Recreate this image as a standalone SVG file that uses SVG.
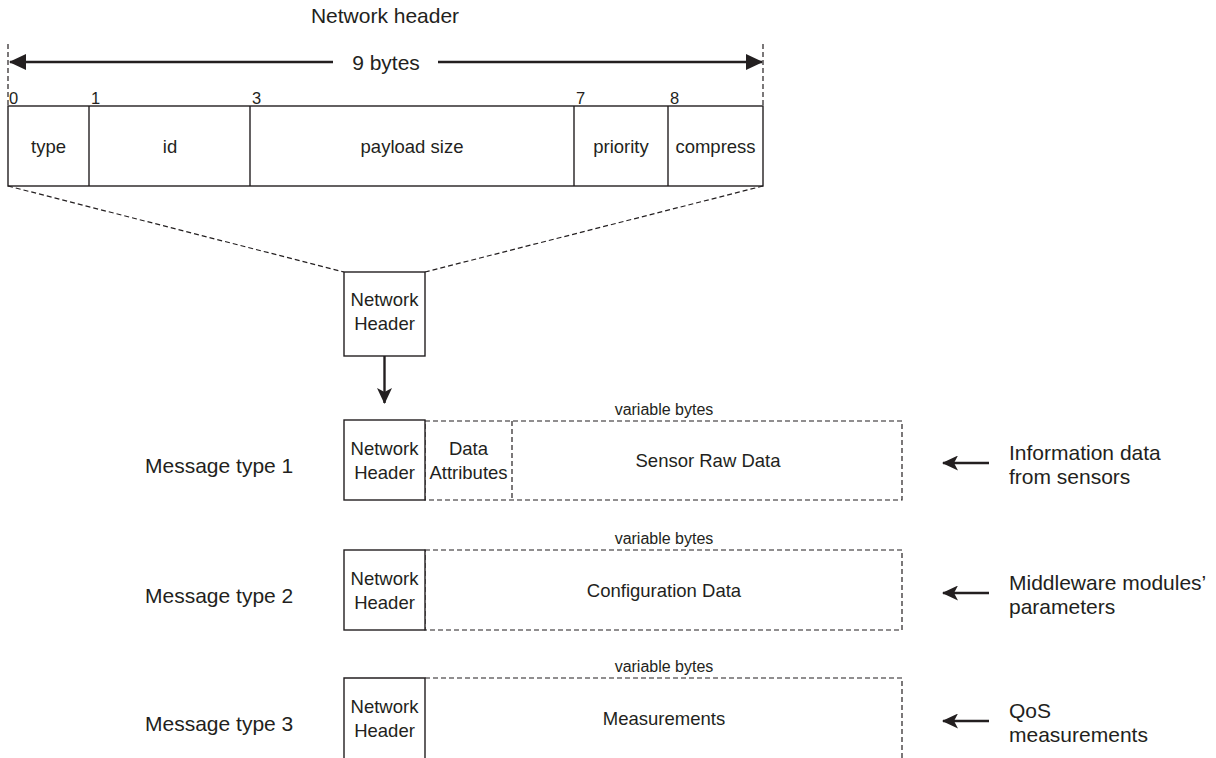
<svg xmlns="http://www.w3.org/2000/svg" width="1216" height="758" viewBox="0 0 1216 758">
  <defs>
    <style>
      text { font-family: "Liberation Sans", Arial, sans-serif; fill: #231f20; }
      .lbl { font-size: 21px; }
      .cell { font-size: 18.5px; text-anchor: middle; }
      .num { font-size: 16.5px; }
      .var { font-size: 16px; text-anchor: middle; }
      .solid { fill: #fff; stroke: #231f20; stroke-width: 1.4; }
      .dash { fill: none; stroke: #231f20; stroke-width: 1.2; stroke-dasharray: 5 3; }
      .arrow { stroke: #231f20; stroke-width: 2.4; fill: none; }
    </style>
    <!-- plain triangle for the width dimension line -->
    <marker id="head" viewBox="0 0 17 16" refX="16" refY="8" markerWidth="17" markerHeight="16" orient="auto" markerUnits="userSpaceOnUse">
      <path d="M0,0 L17,8 L0,16 Z" fill="#231f20"/>
    </marker>
    <!-- notched arrowhead for flow arrows -->
    <marker id="headNotch" viewBox="0 0 16 15" refX="15" refY="7.5" markerWidth="16" markerHeight="15" orient="auto" markerUnits="userSpaceOnUse">
      <path d="M0,0 L16,7.5 L0,15 L4,7.5 Z" fill="#231f20"/>
    </marker>
  </defs>

  <!-- Network header layout (9 bytes) -->
  <g id="network-header-layout">
    <text class="lbl" x="385" y="23" text-anchor="middle">Network header</text>
    <line class="dash" x1="8" y1="44" x2="8" y2="106"/>
    <line class="dash" x1="763" y1="44" x2="763" y2="106"/>
    <text class="lbl" x="386" y="70" text-anchor="middle">9 bytes</text>
    <rect class="solid" x="8" y="106" width="755" height="80"/>
    <line class="solid" x1="89" y1="106" x2="89" y2="186"/>
    <line class="solid" x1="250" y1="106" x2="250" y2="186"/>
    <line class="solid" x1="574" y1="106" x2="574" y2="186"/>
    <line class="solid" x1="668" y1="106" x2="668" y2="186"/>
    <text class="num" x="9" y="104">0</text>
    <text class="num" x="91" y="104">1</text>
    <text class="num" x="252" y="104">3</text>
    <text class="num" x="576" y="104">7</text>
    <text class="num" x="670" y="104">8</text>
    <text class="cell" x="48.5" y="153">type</text>
    <text class="cell" x="170" y="153">id</text>
    <text class="cell" x="412" y="153">payload size</text>
    <text class="cell" x="621" y="153">priority</text>
    <text class="cell" x="715.5" y="153">compress</text>
  </g>

  <!-- Standalone network header block -->
  <g id="network-header-block">
    <rect class="solid" x="344" y="272" width="81" height="84"/>
    <text class="cell" x="384.5" y="306">Network</text>
    <text class="cell" x="384.5" y="330">Header</text>
  </g>

  <!-- Message type 1 -->
  <g id="message-type-1">
    <text class="lbl" x="145" y="473">Message type 1</text>
    <text class="var" x="664" y="415">variable bytes</text>
    <rect class="dash" x="425" y="421" width="477" height="79"/>
    <line class="dash" x1="512" y1="421" x2="512" y2="500"/>
    <rect class="solid" x="344" y="420" width="81" height="80"/>
    <text class="cell" x="384.5" y="455">Network</text>
    <text class="cell" x="384.5" y="479">Header</text>
    <text class="cell" x="468.5" y="455">Data</text>
    <text class="cell" x="468.5" y="479">Attributes</text>
    <text class="cell" x="708" y="467">Sensor Raw Data</text>
    <text class="lbl" x="1009" y="460">Information data</text>
    <text class="lbl" x="1009" y="484">from sensors</text>
  </g>

  <!-- Message type 2 -->
  <g id="message-type-2">
    <text class="lbl" x="145" y="603">Message type 2</text>
    <text class="var" x="664" y="544">variable bytes</text>
    <rect class="dash" x="425" y="550" width="477" height="80"/>
    <rect class="solid" x="344" y="550" width="81" height="80"/>
    <text class="cell" x="384.5" y="585">Network</text>
    <text class="cell" x="384.5" y="609">Header</text>
    <text class="cell" x="664" y="597">Configuration Data</text>
    <text class="lbl" x="1009" y="590">Middleware modules’</text>
    <text class="lbl" x="1009" y="614">parameters</text>
  </g>

  <!-- Message type 3 -->
  <g id="message-type-3">
    <text class="lbl" x="145" y="731">Message type 3</text>
    <text class="var" x="664" y="672">variable bytes</text>
    <path class="dash" d="M425,678 H902 V760"/>
    <path class="solid" d="M344,760 V678 H425 V760" fill="#fff"/>
    <text class="cell" x="384.5" y="713">Network</text>
    <text class="cell" x="384.5" y="737">Header</text>
    <text class="cell" x="664" y="725">Measurements</text>
    <text class="lbl" x="1009" y="718">QoS</text>
    <text class="lbl" x="1009" y="742">measurements</text>
  </g>

  <!-- Connectors -->
  <g id="connectors">
    <line class="arrow" x1="333" y1="62" x2="10" y2="62" marker-end="url(#head)"/>
    <line class="arrow" x1="438" y1="62" x2="762" y2="62" marker-end="url(#head)"/>
    <line class="dash" x1="8" y1="186" x2="344" y2="272"/>
    <line class="dash" x1="763" y1="186" x2="425" y2="272"/>
    <line class="arrow" x1="384.5" y1="356" x2="384.5" y2="403" marker-end="url(#headNotch)"/>
    <line class="arrow" x1="989" y1="463" x2="943" y2="463" marker-end="url(#headNotch)"/>
    <line class="arrow" x1="989" y1="593" x2="943" y2="593" marker-end="url(#headNotch)"/>
    <line class="arrow" x1="989" y1="721" x2="943" y2="721" marker-end="url(#headNotch)"/>
  </g>
</svg>
